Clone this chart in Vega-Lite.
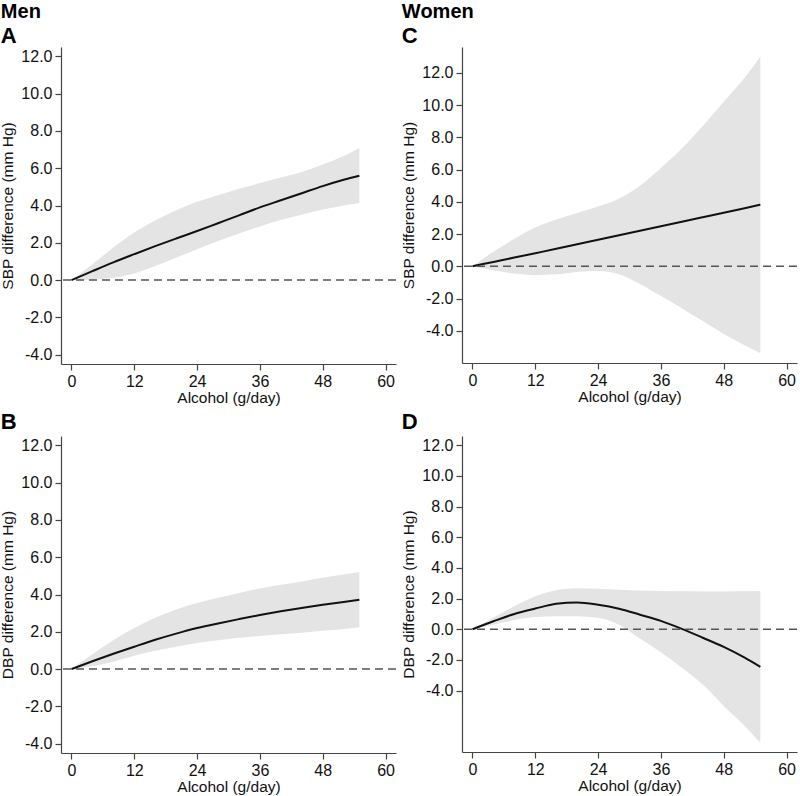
{
  "$schema": "https://vega.github.io/schema/vega-lite/v6.json",
  "padding": {"top": 2, "left": 0, "right": 0, "bottom": 0},
  "background": "white",
  "config": {
    "font": "Liberation Sans",
    "view": {"stroke": null},
    "style": {"guide-label": {"fontSize": 16, "font": "Liberation Sans", "fill": "#111"}, "guide-title": {"fontSize": 15.5, "font": "Liberation Sans", "fill": "#111", "fontWeight": "normal"}},
    "title": {"anchor": "start", "frame": "bounds", "color": "#000", "subtitleColor": "#000", "font": "Liberation Sans", "subtitleFont": "Liberation Sans"},
    "axis": {"grid": false, "domainColor": "#444", "tickColor": "#444", "labelColor": "#111", "titleColor": "#111", "labelFontSize": 16, "titleFontSize": 15.5, "titleFontWeight": "normal", "tickSize": 6, "domainWidth": 1.2, "tickWidth": 1.2, "labelOverlap": false},
    "axisX": {"labelPadding": 3, "titlePadding": 1},
    "axisY": {"labelPadding": 3, "titlePadding": 5, "labelExpr": "replace(datum.label, '\u2212', '-')"}
  },
  "data": {"values": [
    {"p":"A","x":0,"y":0,"lo":0,"hi":0},
    {"p":"A","x":4,"y":0.48,"lo":0.03,"hi":0.85},
    {"p":"A","x":8,"y":0.95,"lo":0.12,"hi":1.75},
    {"p":"A","x":12,"y":1.39,"lo":0.35,"hi":2.55},
    {"p":"A","x":16,"y":1.82,"lo":0.75,"hi":3.2},
    {"p":"A","x":20,"y":2.23,"lo":1.2,"hi":3.75},
    {"p":"A","x":24,"y":2.63,"lo":1.66,"hi":4.2},
    {"p":"A","x":28,"y":3.05,"lo":2.1,"hi":4.55},
    {"p":"A","x":32,"y":3.47,"lo":2.5,"hi":4.9},
    {"p":"A","x":36,"y":3.9,"lo":2.88,"hi":5.2},
    {"p":"A","x":40,"y":4.28,"lo":3.22,"hi":5.5},
    {"p":"A","x":44,"y":4.66,"lo":3.5,"hi":5.8},
    {"p":"A","x":48,"y":5.04,"lo":3.78,"hi":6.2},
    {"p":"A","x":52,"y":5.38,"lo":4.0,"hi":6.65},
    {"p":"A","x":55,"y":5.6,"lo":4.13,"hi":7.08},
    {"p":"B","x":0,"y":0,"lo":0,"hi":0},
    {"p":"B","x":4,"y":0.42,"lo":0.15,"hi":0.8},
    {"p":"B","x":8,"y":0.82,"lo":0.4,"hi":1.55},
    {"p":"B","x":12,"y":1.2,"lo":0.72,"hi":2.2},
    {"p":"B","x":16,"y":1.57,"lo":0.98,"hi":2.75},
    {"p":"B","x":20,"y":1.9,"lo":1.2,"hi":3.2},
    {"p":"B","x":24,"y":2.2,"lo":1.4,"hi":3.55},
    {"p":"B","x":28,"y":2.45,"lo":1.55,"hi":3.82},
    {"p":"B","x":32,"y":2.68,"lo":1.68,"hi":4.08},
    {"p":"B","x":36,"y":2.9,"lo":1.78,"hi":4.32},
    {"p":"B","x":40,"y":3.1,"lo":1.87,"hi":4.52},
    {"p":"B","x":44,"y":3.28,"lo":1.95,"hi":4.7},
    {"p":"B","x":48,"y":3.45,"lo":2.05,"hi":4.9},
    {"p":"B","x":52,"y":3.6,"lo":2.15,"hi":5.07},
    {"p":"B","x":55,"y":3.72,"lo":2.25,"hi":5.2},
    {"p":"C","x":0,"y":0,"lo":0,"hi":0},
    {"p":"C","x":4,"y":0.27,"lo":-0.25,"hi":0.9},
    {"p":"C","x":8,"y":0.54,"lo":-0.45,"hi":1.7},
    {"p":"C","x":12,"y":0.81,"lo":-0.55,"hi":2.4},
    {"p":"C","x":16,"y":1.08,"lo":-0.5,"hi":2.9},
    {"p":"C","x":20,"y":1.36,"lo":-0.35,"hi":3.3},
    {"p":"C","x":24,"y":1.64,"lo":-0.3,"hi":3.7},
    {"p":"C","x":28,"y":1.92,"lo":-0.5,"hi":4.2},
    {"p":"C","x":32,"y":2.2,"lo":-1.1,"hi":5.0},
    {"p":"C","x":36,"y":2.48,"lo":-1.85,"hi":6.1},
    {"p":"C","x":40,"y":2.76,"lo":-2.6,"hi":7.3},
    {"p":"C","x":44,"y":3.04,"lo":-3.4,"hi":8.7},
    {"p":"C","x":48,"y":3.32,"lo":-4.2,"hi":10.2},
    {"p":"C","x":52,"y":3.6,"lo":-4.9,"hi":11.7},
    {"p":"C","x":55,"y":3.82,"lo":-5.4,"hi":13.0},
    {"p":"D","x":0,"y":0,"lo":0,"hi":0},
    {"p":"D","x":4,"y":0.52,"lo":0.3,"hi":0.75},
    {"p":"D","x":8,"y":1.0,"lo":0.6,"hi":1.5},
    {"p":"D","x":12,"y":1.35,"lo":0.8,"hi":2.15},
    {"p":"D","x":16,"y":1.66,"lo":0.85,"hi":2.55},
    {"p":"D","x":20,"y":1.75,"lo":0.85,"hi":2.68},
    {"p":"D","x":24,"y":1.6,"lo":0.75,"hi":2.65},
    {"p":"D","x":28,"y":1.34,"lo":0.3,"hi":2.58},
    {"p":"D","x":32,"y":0.95,"lo":-0.6,"hi":2.53},
    {"p":"D","x":36,"y":0.55,"lo":-1.5,"hi":2.5},
    {"p":"D","x":40,"y":0.03,"lo":-2.5,"hi":2.48},
    {"p":"D","x":44,"y":-0.55,"lo":-3.6,"hi":2.47},
    {"p":"D","x":48,"y":-1.15,"lo":-5.0,"hi":2.47},
    {"p":"D","x":52,"y":-1.85,"lo":-6.3,"hi":2.48},
    {"p":"D","x":55,"y":-2.45,"lo":-7.4,"hi":2.5}
  ]},
  "vconcat": [
    {"hconcat": [
      {
        "title": {"text": "Men", "subtitle": "A", "fontSize": 20, "fontWeight": "bold", "subtitleFontSize": 22, "subtitleFontWeight": "bold", "subtitlePadding": 4, "offset": 0},
        "width": 335, "height": 317,
        "layer": [
          {"transform": [{"filter": "datum.p === 'A'"}], "mark": {"type": "area", "color": "#e4e4e4", "interpolate": "monotone"},
           "encoding": {
             "x": {"field": "x", "type": "quantitative", "title": "Alcohol (g/day)", "scale": {"domain": [-2, 62], "nice": false, "zero": false}, "axis": {"values": [0, 12, 24, 36, 48, 60]}},
             "y": {"field": "lo", "type": "quantitative", "title": "SBP difference (mm Hg)", "scale": {"domain": [-4.5, 12.5], "nice": false, "zero": false}, "axis": {"values": [-4, -2, 0, 2, 4, 6, 8, 10, 12], "format": ".1f", "labelOverlap": false}},
             "y2": {"field": "hi"}}},
          {"transform": [{"filter": "datum.p === 'A'"}], "mark": {"type": "line", "color": "#111", "strokeWidth": 2, "interpolate": "monotone"},
           "encoding": {
             "x": {"field": "x", "type": "quantitative", "title": "Alcohol (g/day)", "axis": {"values": [0, 12, 24, 36, 48, 60]}},
             "y": {"field": "y", "type": "quantitative", "title": "SBP difference (mm Hg)", "axis": {"values": [-4, -2, 0, 2, 4, 6, 8, 10, 12], "format": ".1f", "labelOverlap": false}}}},
          {"data": {"values": [{"ref": 0}]}, "mark": {"type": "rule", "color": "#555", "strokeDash": [8, 5], "strokeWidth": 1.5},
           "encoding": {"y": {"field": "ref", "type": "quantitative", "title": "SBP difference (mm Hg)", "axis": {"values": [-4, -2, 0, 2, 4, 6, 8, 10, 12], "format": ".1f", "labelOverlap": false}}}}
        ]
      },
      {
        "title": {"text": "Women", "subtitle": "C", "fontSize": 20, "fontWeight": "bold", "subtitleFontSize": 22, "subtitleFontWeight": "bold", "subtitlePadding": 4, "offset": 0},
        "width": 335, "height": 316,
        "layer": [
          {"transform": [{"filter": "datum.p === 'C'"}], "mark": {"type": "area", "color": "#e4e4e4", "interpolate": "monotone"},
           "encoding": {
             "x": {"field": "x", "type": "quantitative", "title": "Alcohol (g/day)", "scale": {"domain": [-2, 62], "nice": false, "zero": false}, "axis": {"values": [0, 12, 24, 36, 48, 60]}},
             "y": {"field": "lo", "type": "quantitative", "title": "SBP difference (mm Hg)", "scale": {"domain": [-6, 13.6], "nice": false, "zero": false}, "axis": {"values": [-4, -2, 0, 2, 4, 6, 8, 10, 12], "format": ".1f", "labelOverlap": false}},
             "y2": {"field": "hi"}}},
          {"transform": [{"filter": "datum.p === 'C'"}], "mark": {"type": "line", "color": "#111", "strokeWidth": 2, "interpolate": "monotone"},
           "encoding": {
             "x": {"field": "x", "type": "quantitative", "title": "Alcohol (g/day)", "axis": {"values": [0, 12, 24, 36, 48, 60]}},
             "y": {"field": "y", "type": "quantitative", "title": "SBP difference (mm Hg)", "axis": {"values": [-4, -2, 0, 2, 4, 6, 8, 10, 12], "format": ".1f", "labelOverlap": false}}}},
          {"data": {"values": [{"ref": 0}]}, "mark": {"type": "rule", "color": "#555", "strokeDash": [8, 5], "strokeWidth": 1.5},
           "encoding": {"y": {"field": "ref", "type": "quantitative", "title": "SBP difference (mm Hg)", "axis": {"values": [-4, -2, 0, 2, 4, 6, 8, 10, 12], "format": ".1f", "labelOverlap": false}}}}
        ]
      }
    ], "spacing": 4},
    {"hconcat": [
      {
        "title": {"text": "B", "fontSize": 22, "fontWeight": "bold", "offset": 2},
        "width": 335, "height": 317,
        "layer": [
          {"transform": [{"filter": "datum.p === 'B'"}], "mark": {"type": "area", "color": "#e4e4e4", "interpolate": "monotone"},
           "encoding": {
             "x": {"field": "x", "type": "quantitative", "title": "Alcohol (g/day)", "scale": {"domain": [-2, 62], "nice": false, "zero": false}, "axis": {"values": [0, 12, 24, 36, 48, 60]}},
             "y": {"field": "lo", "type": "quantitative", "title": "DBP difference (mm Hg)", "scale": {"domain": [-4.5, 12.5], "nice": false, "zero": false}, "axis": {"values": [-4, -2, 0, 2, 4, 6, 8, 10, 12], "format": ".1f", "labelOverlap": false}},
             "y2": {"field": "hi"}}},
          {"transform": [{"filter": "datum.p === 'B'"}], "mark": {"type": "line", "color": "#111", "strokeWidth": 2, "interpolate": "monotone"},
           "encoding": {
             "x": {"field": "x", "type": "quantitative", "title": "Alcohol (g/day)", "axis": {"values": [0, 12, 24, 36, 48, 60]}},
             "y": {"field": "y", "type": "quantitative", "title": "DBP difference (mm Hg)", "axis": {"values": [-4, -2, 0, 2, 4, 6, 8, 10, 12], "format": ".1f", "labelOverlap": false}}}},
          {"data": {"values": [{"ref": 0}]}, "mark": {"type": "rule", "color": "#555", "strokeDash": [8, 5], "strokeWidth": 1.5},
           "encoding": {"y": {"field": "ref", "type": "quantitative", "title": "DBP difference (mm Hg)", "axis": {"values": [-4, -2, 0, 2, 4, 6, 8, 10, 12], "format": ".1f", "labelOverlap": false}}}}
        ]
      },
      {
        "title": {"text": "D", "fontSize": 22, "fontWeight": "bold", "offset": 2},
        "width": 335, "height": 316,
        "layer": [
          {"transform": [{"filter": "datum.p === 'D'"}], "mark": {"type": "area", "color": "#e4e4e4", "interpolate": "monotone"},
           "encoding": {
             "x": {"field": "x", "type": "quantitative", "title": "Alcohol (g/day)", "scale": {"domain": [-2, 62], "nice": false, "zero": false}, "axis": {"values": [0, 12, 24, 36, 48, 60]}},
             "y": {"field": "lo", "type": "quantitative", "title": "DBP difference (mm Hg)", "scale": {"domain": [-8, 12.6], "nice": false, "zero": false}, "axis": {"values": [-4, -2, 0, 2, 4, 6, 8, 10, 12], "format": ".1f", "labelOverlap": false}},
             "y2": {"field": "hi"}}},
          {"transform": [{"filter": "datum.p === 'D'"}], "mark": {"type": "line", "color": "#111", "strokeWidth": 2, "interpolate": "monotone"},
           "encoding": {
             "x": {"field": "x", "type": "quantitative", "title": "Alcohol (g/day)", "axis": {"values": [0, 12, 24, 36, 48, 60]}},
             "y": {"field": "y", "type": "quantitative", "title": "DBP difference (mm Hg)", "axis": {"values": [-4, -2, 0, 2, 4, 6, 8, 10, 12], "format": ".1f", "labelOverlap": false}}}},
          {"data": {"values": [{"ref": 0}]}, "mark": {"type": "rule", "color": "#555", "strokeDash": [8, 5], "strokeWidth": 1.5},
           "encoding": {"y": {"field": "ref", "type": "quantitative", "title": "DBP difference (mm Hg)", "axis": {"values": [-4, -2, 0, 2, 4, 6, 8, 10, 12], "format": ".1f", "labelOverlap": false}}}}
        ]
      }
    ], "spacing": 4}
  ],
  "spacing": 5
}
